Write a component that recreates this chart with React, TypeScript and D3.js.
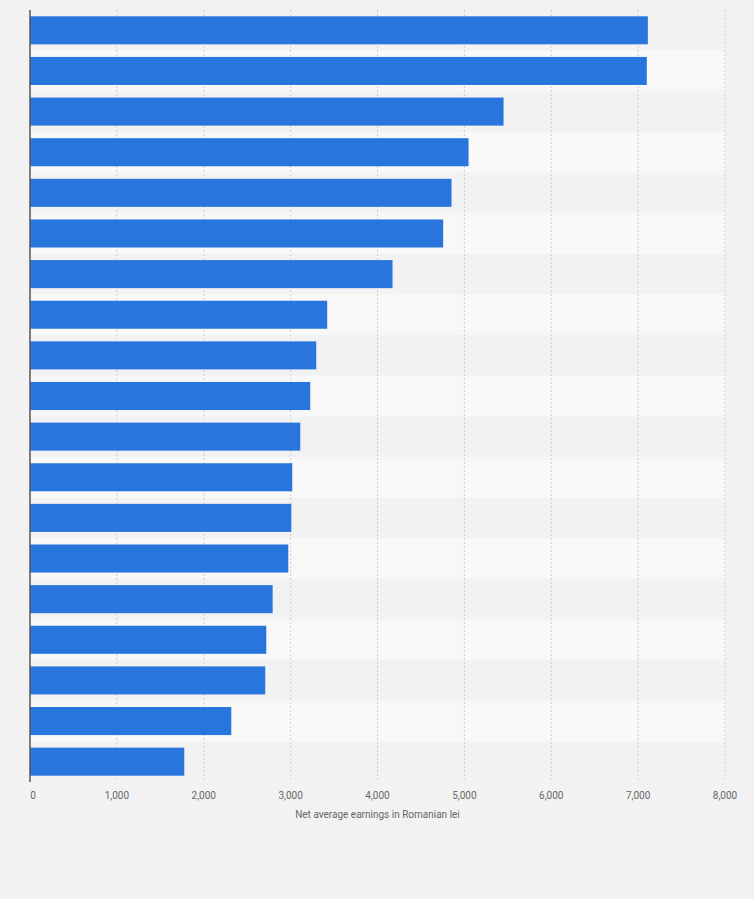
import { useEffect, useRef } from 'react';
import * as d3 from 'd3';

// values, top to bottom (category names are not shown in the picture)
const rows = ['r1', 'r2', 'r3', 'r4', 'r5', 'r6', 'r7', 'r8', 'r9', 'r10', 'r11', 'r12', 'r13', 'r14', 'r15', 'r16', 'r17', 'r18', 'r19'];
const earnings = [7112, 7100, 5451, 5048, 4852, 4756, 4173, 3421, 3295, 3226, 3111, 3019, 3008, 2973, 2793, 2720, 2708, 2317, 1776];
const xTicks = [0, 1000, 2000, 3000, 4000, 5000, 6000, 7000, 8000];
const axisTitle = 'Net average earnings in Romanian lei';

const WIDTH = 754;
const HEIGHT = 899;

export default function App() {
	const svgRef = useRef<SVGSVGElement>(null);

	useEffect(() => {
		if (!svgRef.current) return;
		const svg = d3.select(svgRef.current);
		svg.selectAll('*').remove();

		const margin = { top: 10, left: 30, right: 29, bottom: 117 };
		const chartWidth = WIDTH - margin.left - margin.right;
		const chartHeight = HEIGHT - margin.top - margin.bottom;

		svg.append('rect').attr('width', WIDTH).attr('height', HEIGHT).attr('fill', '#f2f2f2');

		const g = svg.append('g').attr('transform', `translate(${margin.left},${margin.top})`);

		const x = d3.scaleLinear().domain([0, 8000]).range([0, chartWidth]);
		const y = d3.scaleBand().domain(rows).range([0, chartHeight]).paddingInner(0.31).paddingOuter(0.155);
		const rowBand = d3.scaleBand().domain(rows).range([0, chartHeight]);

		// alternating row stripes
		g.selectAll('.stripe')
			.data(rows.filter((_, i) => i % 2 === 1))
			.enter()
			.append('rect')
			.attr('x', 0)
			.attr('y', (d) => rowBand(d)!)
			.attr('width', chartWidth)
			.attr('height', rowBand.bandwidth())
			.attr('fill', '#f8f8f8');

		// grid lines
		g.selectAll('.grid')
			.data(xTicks.slice(1))
			.enter()
			.append('line')
			.attr('x1', (d) => x(d))
			.attr('x2', (d) => x(d))
			.attr('y1', 0)
			.attr('y2', chartHeight)
			.attr('stroke', '#cfcfcf')
			.attr('stroke-width', 1)
			.attr('stroke-dasharray', '2,2');

		// bars
		g.selectAll('.bar')
			.data(earnings)
			.enter()
			.append('rect')
			.attr('x', 0)
			.attr('y', (_, i) => y(rows[i])!)
			.attr('width', (d) => x(d))
			.attr('height', y.bandwidth())
			.attr('fill', '#2876dd');

		// left axis line
		g.append('line')
			.attr('x1', 0)
			.attr('x2', 0)
			.attr('y1', 0)
			.attr('y2', chartHeight)
			.attr('stroke', '#555')
			.attr('stroke-width', 1.5);

		// x tick labels
		g.selectAll('.tick')
			.data(xTicks)
			.enter()
			.append('text')
			.attr('x', (d) => (d === 0 ? x(d) + 3 : x(d)))
			.attr('y', chartHeight + 17)
			.attr('text-anchor', 'middle')
			.style('font-family', 'Roboto, sans-serif')
			.style('font-size', '10px')
			.style('fill', '#666')
			.text((d) => d3.format(',')(d));

		g.append('text')
			.attr('x', chartWidth / 2)
			.attr('y', chartHeight + 36)
			.attr('text-anchor', 'middle')
			.style('font-family', 'Roboto, sans-serif')
			.style('font-size', '10px')
			.style('fill', '#666')
			.text(axisTitle);
	}, []);

	return (
		<div style={{ position: 'fixed', left: 0, top: 0, width: WIDTH, height: HEIGHT }}>
			<svg ref={svgRef} width={WIDTH} height={HEIGHT} style={{ display: 'block' }}></svg>
		</div>
	);
}
